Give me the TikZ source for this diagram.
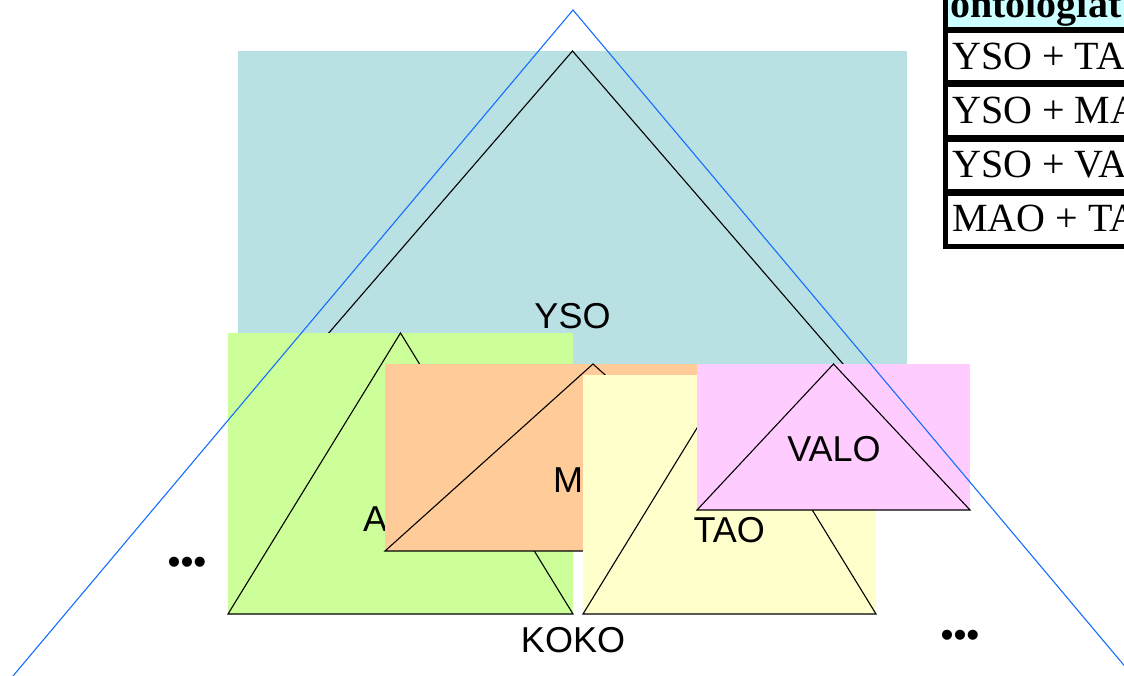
\documentclass[tikz,border=0pt]{standalone}
\usepackage{fontspec}
\setmainfont{Liberation Serif}
\setsansfont{Liberation Sans}
\usepackage{xcolor}
\usepackage{tikz}
\usetikzlibrary{fit, positioning}

\definecolor{ysofill}{RGB}{185,224,227}
\definecolor{afofill}{RGB}{204,255,153}
\definecolor{maofill}{RGB}{255,204,153}
\definecolor{taofill}{RGB}{255,255,204}
\definecolor{valofill}{RGB}{255,204,255}
\definecolor{kokoline}{RGB}{20,110,255}
\definecolor{headfill}{RGB}{204,255,255}

\begin{document}
\begin{tikzpicture}[x=1pt,y=-1pt,
                    onto box/.style={fill=#1,draw=none,inner sep=0pt,outer sep=0pt},
                    onto tri/.style={draw=black,line width=1.1pt},
                    onto label/.style={font=\sffamily\fontsize{36}{40}\selectfont,inner sep=0pt},
                    more dots/.style={font=\sffamily\fontsize{37}{40}\selectfont,inner sep=0pt},
                    cell text/.style={font=\fontsize{40}{44}\selectfont,anchor=base west,inner sep=0pt}]

 \useasboundingbox (0,0) rectangle (1124,676);
 \clip (0,0) rectangle (1124,676);

 % corner points of the ontologies
 \coordinate (ysoL) at (238,438);  \coordinate (ysoT) at (572.5,51);  \coordinate (ysoR) at (907,438);
 \coordinate (afoL) at (228,614);  \coordinate (afoT) at (400.5,333); \coordinate (afoR) at (573,614);
 \coordinate (maoL) at (385,551);  \coordinate (maoT) at (593,364);   \coordinate (maoR) at (801,551);
 \coordinate (taoL) at (583,614);  \coordinate (taoT) at (729.5,375); \coordinate (taoR) at (876,614);
 \coordinate (valoL) at (697,510); \coordinate (valoT) at (833.5,364);\coordinate (valoR) at (970,510);

 % YSO
 \node (ysoBox) [onto box=ysofill,fit=(ysoL) (ysoT) (ysoR)] {};
 \draw[onto tri] (ysoL) -- (ysoT) -- (ysoR) -- cycle;
 \node[onto label] (yso) at (572.5,316) {YSO};

 % AFO
 \node (afoBox) [onto box=afofill,fit=(afoL) (afoT) (afoR)] {};
 \draw[onto tri] (afoL) -- (afoT) -- (afoR) -- cycle;
 \node[onto label,anchor=west] (afo) at (363,519) {AFO};

 % MAO
 \node (maoBox) [onto box=maofill,fit=(maoL) (maoT) (maoR)] {};
 \draw[onto tri] (maoL) -- (maoT) -- (maoR) -- cycle;
 \node[onto label,anchor=west] (mao) at (553,480) {MAO};

 % TAO
 \node (taoBox) [onto box=taofill,fit=(taoL) (taoT) (taoR)] {};
 \draw[onto tri] (taoL) -- (taoT) -- (taoR) -- cycle;
 \node[onto label] (tao) at (729.3,530) {TAO};

 % VALO
 \node (valoBox) [onto box=valofill,fit=(valoL) (valoT) (valoR)] {};
 \draw[onto tri] (valoL) -- (valoT) -- (valoR) -- cycle;
 \node[onto label] (valo) at (834,449) {VALO};

 % KOKO
 \coordinate (kokoL) at (13,676);
 \coordinate (kokoT) at (573,10);
 \coordinate (kokoR) at (1133,676);
 \draw[kokoline,line width=1.1pt] (kokoL) -- (kokoT) -- (kokoR);
 \node[onto label] (koko) at (573,640.5) {KOKO};

 \node[more dots] (dotsL) at (187,566) {•••};
 \node[more dots] (dotsR) at (960,639) {•••};

 % table
 \fill[black] (943,-30) rectangle (1140,249);
 \fill[headfill] (948,-30) rectangle (1140,27);
 \foreach \i in {0,...,3}
   \fill[white] (948,33+54.4*\i) rectangle (1140,80.5+54.4*\i);
 \node[cell text,font=\bfseries\fontsize{40}{44}\selectfont] (head) at (950,18) {ontologiat};
 \foreach \txt [count=\i from 0] in {YSO + TAO, YSO + MAO, YSO + VALO, MAO + TAO}
   \node[cell text] (row\i) at (952,69.5+53.9*\i) {\txt};

\end{tikzpicture}
\end{document}
